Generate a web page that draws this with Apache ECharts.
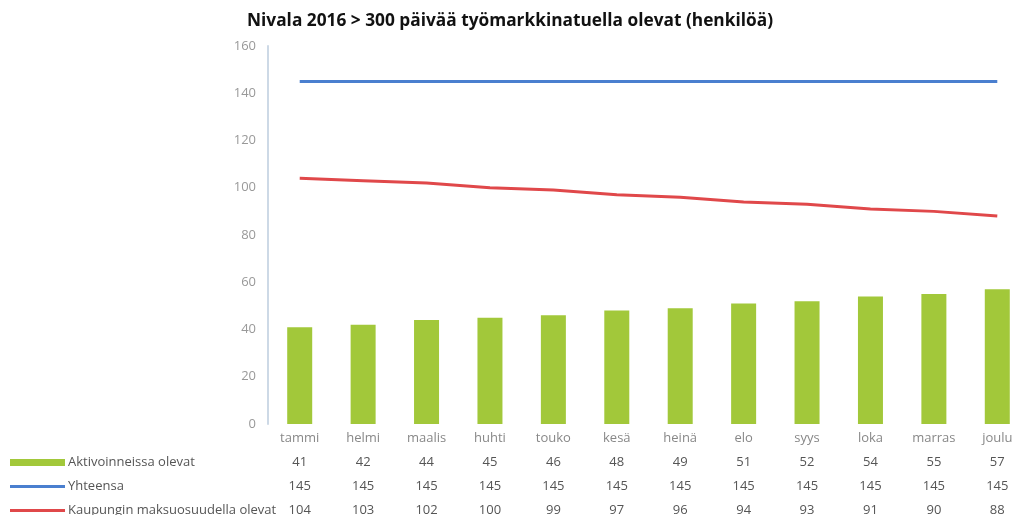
<!DOCTYPE html>
<html>
<head>
<meta charset="utf-8">
<script src="https://cdn.jsdelivr.net/npm/echarts@6/dist/echarts.min.js"></script>
<style>
  html, body { margin: 0; padding: 0; background: #fff; }
  #chart { width: 1020px; height: 515px; }
</style>
</head>
<body>
<div id="chart"></div>
<script>
// data
var months = ['tammi', 'helmi', 'maalis', 'huhti', 'touko', 'kesä', 'heinä', 'elo', 'syys', 'loka', 'marras', 'joulu'];
var aktivoinneissa = [41, 42, 44, 45, 46, 48, 49, 51, 52, 54, 55, 57];
var yhteensa = [145, 145, 145, 145, 145, 145, 145, 145, 145, 145, 145, 145];
var kaupungin = [104, 103, 102, 100, 99, 97, 96, 94, 93, 91, 90, 88];
var yTicks = [0, 20, 40, 60, 80, 100, 120, 140, 160];

var names = ['Aktivoinneissa olevat', 'Yhteensa', 'Kaupungin maksuosuudella olevat'];
var colors = ['#a2c83a', '#4a7fcf', '#e0484a'];

var myChart = echarts.init(document.getElementById('chart'));

function legendRow(name, top, h) {
  return {
    data: [name],
    left: 10,
    top: top,
    orient: 'horizontal',
    itemWidth: 55,
    itemHeight: h,
    itemGap: 0,
    icon: 'rect',
    padding: 0,
    selectedMode: false,
    textStyle: { color: '#555', fontSize: 13, fontFamily: 'Open Sans', padding: [0, 0, 0, -2] }
  };
}

var option = {
  animation: false,
  color: colors,
  title: {
    text: 'Nivala 2016 > 300 päivää työmarkkinatuella olevat (henkilöä)',
    left: 'center',
    top: 8,
    textStyle: { fontFamily: 'Open Sans', fontWeight: 'bold', fontSize: 17.3, color: '#111' }
  },
  legend: [
    legendRow(names[0], 456, 7),
    legendRow(names[1], 480, 3),
    legendRow(names[2], 504, 3)
  ],
  grid: { left: 268, right: -9, top: 46, bottom: 91, containLabel: false, outerBoundsMode: 'none' },
  xAxis: {
    type: 'category',
    data: months,
    axisLine: { show: false },
    axisTick: { show: false },
    axisLabel: {
      interval: 0,
      margin: 2,
      color: '#555',
      fontSize: 13,
      fontFamily: 'Open Sans',
      lineHeight: 24,
      formatter: function (v, i) {
        return '{m|' + v + '}\n' + aktivoinneissa[i] + '\n' + yhteensa[i] + '\n' + kaupungin[i];
      },
      rich: {
        m: { color: '#888', fontSize: 13, fontFamily: 'Open Sans', lineHeight: 24 }
      }
    }
  },
  yAxis: {
    type: 'value',
    min: yTicks[0],
    max: yTicks[yTicks.length - 1],
    interval: 20,
    axisLine: { show: true, lineStyle: { color: '#cdd9e6', width: 2 } },
    axisTick: { show: false },
    splitLine: { show: false },
    axisLabel: { color: '#999', fontSize: 13, fontFamily: 'Open Sans', margin: 12 }
  },
  series: [
    {
      name: names[0],
      type: 'bar',
      data: aktivoinneissa,
      barWidth: 25,
      itemStyle: { color: colors[0] }
    },
    {
      name: names[1],
      type: 'line',
      data: yhteensa,
      symbol: 'none',
      itemStyle: { color: colors[1] },
      lineStyle: { width: 3, color: colors[1] }
    },
    {
      name: names[2],
      type: 'line',
      data: kaupungin,
      symbol: 'none',
      itemStyle: { color: colors[2] },
      lineStyle: { width: 3, color: colors[2] }
    }
  ]
};

myChart.setOption(option);
</script>
</body>
</html>
